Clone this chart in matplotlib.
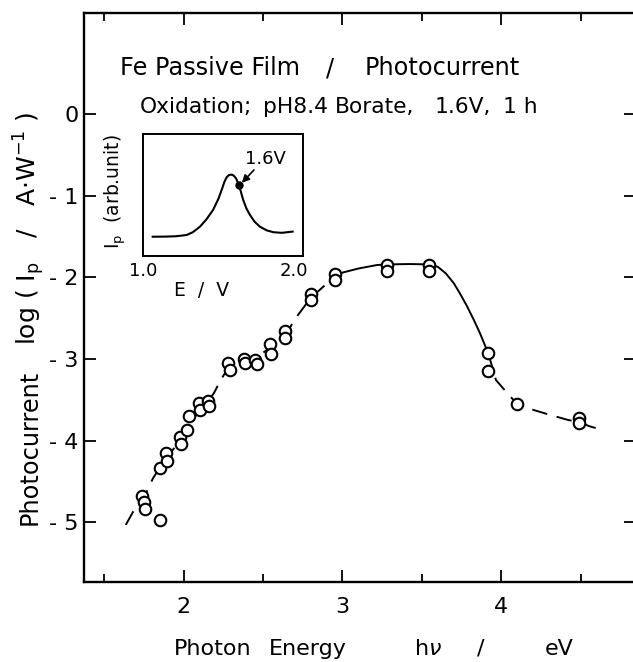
import matplotlib
matplotlib.use("Agg")
import matplotlib.pyplot as plt

# ---- data ----
energy = [1.738, 1.751, 1.759, 1.852, 1.852, 1.893, 1.898, 1.979, 1.984, 2.020,
          2.033, 2.099, 2.106, 2.154, 2.160, 2.281, 2.294, 2.383, 2.388, 2.451,
          2.462, 2.545, 2.548, 2.640, 2.640, 2.800, 2.800, 2.951, 2.951, 3.280,
          3.280, 3.547, 3.547, 3.917, 3.917, 4.100, 4.487, 4.487]
log_ip = [-4.674, -4.755, -4.837, -4.972, -4.330, -4.147, -4.245, -3.958, -4.040, -3.869,
          -3.697, -3.534, -3.624, -3.510, -3.575, -3.044, -3.134, -2.999, -3.052, -3.011,
          -3.064, -2.815, -2.937, -2.650, -2.741, -2.200, -2.280, -1.957, -2.030, -1.847,
          -1.917, -1.847, -1.917, -2.930, -3.142, -3.554, -3.726, -3.780]

# guide curve drawn through the data
curve_x = [1.637, 1.683, 1.75, 1.808, 1.85, 1.90, 2.00, 2.10, 2.16, 2.19, 2.236, 2.29,
           2.40, 2.46, 2.55, 2.64, 2.72, 2.80, 2.95]
curve_y = [-5.03, -4.87, -4.70, -4.46, -4.33, -4.20, -3.93, -3.62, -3.50, -3.42, -3.25, -3.08,
           -3.00, -2.98, -2.85, -2.70, -2.46, -2.25, -1.99]
solid_x = [2.95, 3.00, 3.10, 3.217, 3.28, 3.42, 3.55, 3.60, 3.65, 3.70, 3.737, 3.78,
           3.826, 3.864, 3.917]
solid_y = [-1.99, -1.94, -1.89, -1.847, -1.84, -1.835, -1.84, -1.87, -1.95, -2.07, -2.19,
           -2.34, -2.52, -2.68, -2.93]
tail_x = [3.917, 3.965, 4.047, 4.10, 4.18, 4.30, 4.42, 4.49, 4.55, 4.62]
tail_y = [-2.93, -3.256, -3.44, -3.55, -3.61, -3.68, -3.746, -3.77, -3.82, -3.86]

# inset: Ip vs E
inset_E = [1.064, 1.15, 1.22, 1.289, 1.33, 1.377, 1.42, 1.464, 1.50, 1.521, 1.54, 1.554,
           1.57, 1.587, 1.60, 1.616, 1.636, 1.65, 1.664, 1.685, 1.709, 1.74, 1.775, 1.82,
           1.863, 1.92, 1.991]
inset_I = [0.158, 0.159, 0.162, 0.172, 0.195, 0.240, 0.300, 0.377, 0.470, 0.541, 0.610,
           0.645, 0.664, 0.667, 0.660, 0.637, 0.582, 0.520, 0.459, 0.390, 0.336, 0.280,
           0.240, 0.210, 0.195, 0.190, 0.200]
dot_E, dot_I = 1.636, 0.582

xticks_major = [2, 3, 4]
xticks_minor = [1.5, 2.5, 3.5, 4.5]
yticks = [0, -1, -2, -3, -4, -5]

plt.rcParams['font.family'] = ['DejaVu Sans']
W, H = 633, 662

fig = plt.figure(figsize=(6.33, 6.62), dpi=100)
ax = fig.add_axes([83.5 / W, 1 - 582 / H, (636 - 83.5) / W, 569 / H])

ax.plot(curve_x, curve_y, color='black', lw=1.4, dashes=(8, 5), zorder=2)
ax.plot(solid_x, solid_y, color='black', lw=1.4, zorder=2)
ax.plot(tail_x, tail_y, color='black', lw=1.4, dashes=(8, 5), zorder=2)
ax.plot(energy, log_ip, linestyle='none', marker='o', ms=8.3, mfc='white',
        mec='black', mew=1.5, zorder=3)

ax.set_xlim(1.371, 4.846)
ax.set_ylim(-5.73, 1.24)
ax.set_xticks(xticks_major)
ax.set_xticks(xticks_minor, minor=True)
ax.set_yticks(yticks)
ax.set_yticklabels(['0' if v == 0 else '- %d' % abs(v) for v in yticks])
ax.tick_params(which='major', direction='in', length=8.5, width=1.3, top=True, right=True,
               labelsize=16)
ax.tick_params(axis='x', which='major', pad=10.5)
ax.tick_params(axis='y', which='major', pad=3.5)
ax.tick_params(which='minor', direction='in', length=5.5, width=1.3, top=True, right=True)
for s in ax.spines.values():
    s.set_linewidth(1.7)


def ftext(x, y, s, size, ha='left', va='baseline', **kw):
    fig.text(x / W, 1 - y / H, s, fontsize=size, ha=ha, va=va, **kw)


# title lines
ftext(120, 75, 'Fe Passive Film', 17.3)
ftext(330, 75, '/', 17.3, ha='center')
ftext(442.5, 75, 'Photocurrent', 17.3, ha='center')
ftext(140, 113, 'Oxidation;', 15.7)
ftext(263, 113, 'pH8.4', 15.7)
ftext(335, 113, 'Borate,', 15.7)
ftext(435, 113, '1.6V,', 15.7)
ftext(538, 113, '1 h', 15.7, ha='right')

# x label
ftext(174, 655, 'Photon', 16)
ftext(269, 655, 'Energy', 16)
ftext(414, 655, 'h$\\nu$', 16)
ftext(481, 655, '/', 16, ha='center')
ftext(574, 655, 'eV', 16, ha='right')

# y label
ftext(30, 447, 'Photocurrent', 17.3, ha='center', va='center', rotation=90)
ftext(29, 228.5, 'log ( I$_{\\mathrm{p}}$   /   A$\\cdot$W$^{-1}$ )', 18,
      ha='center', va='center', rotation=90)

# inset
ins = fig.add_axes([143 / W, 1 - 256 / H, 160 / W, 122 / H])
ins.plot(inset_E, inset_I, color='black', lw=1.5)
ins.plot([dot_E], [dot_I], 'o', color='black', ms=5)
ins.set_xlim(1.0, 2.06)
ins.set_ylim(0, 1)
ins.set_xticks([1.0, 2.0])
ins.set_xticklabels(['1.0', '2.0'])
ins.set_yticks([])
ins.tick_params(length=0, labelsize=13, pad=4)
for s in ins.spines.values():
    s.set_linewidth(1.4)
ins.text(1.808, 0.795, '1.6V', ha='center', va='center', fontsize=13)
ins.annotate('', xy=(1.655, 0.60), xytext=(1.735, 0.705),
             arrowprops=dict(arrowstyle='-|>', color='black', lw=1.2,
                             shrinkA=0, shrinkB=0, mutation_scale=11))
ftext(202, 290, 'E  /  V', 13.5, ha='center', va='center')
ftext(115, 192, 'I$_{\\mathrm{p}}$  (arb.unit)', 13.5, ha='center', va='center',
      rotation=90)

fig.savefig('out.png', dpi=100)
